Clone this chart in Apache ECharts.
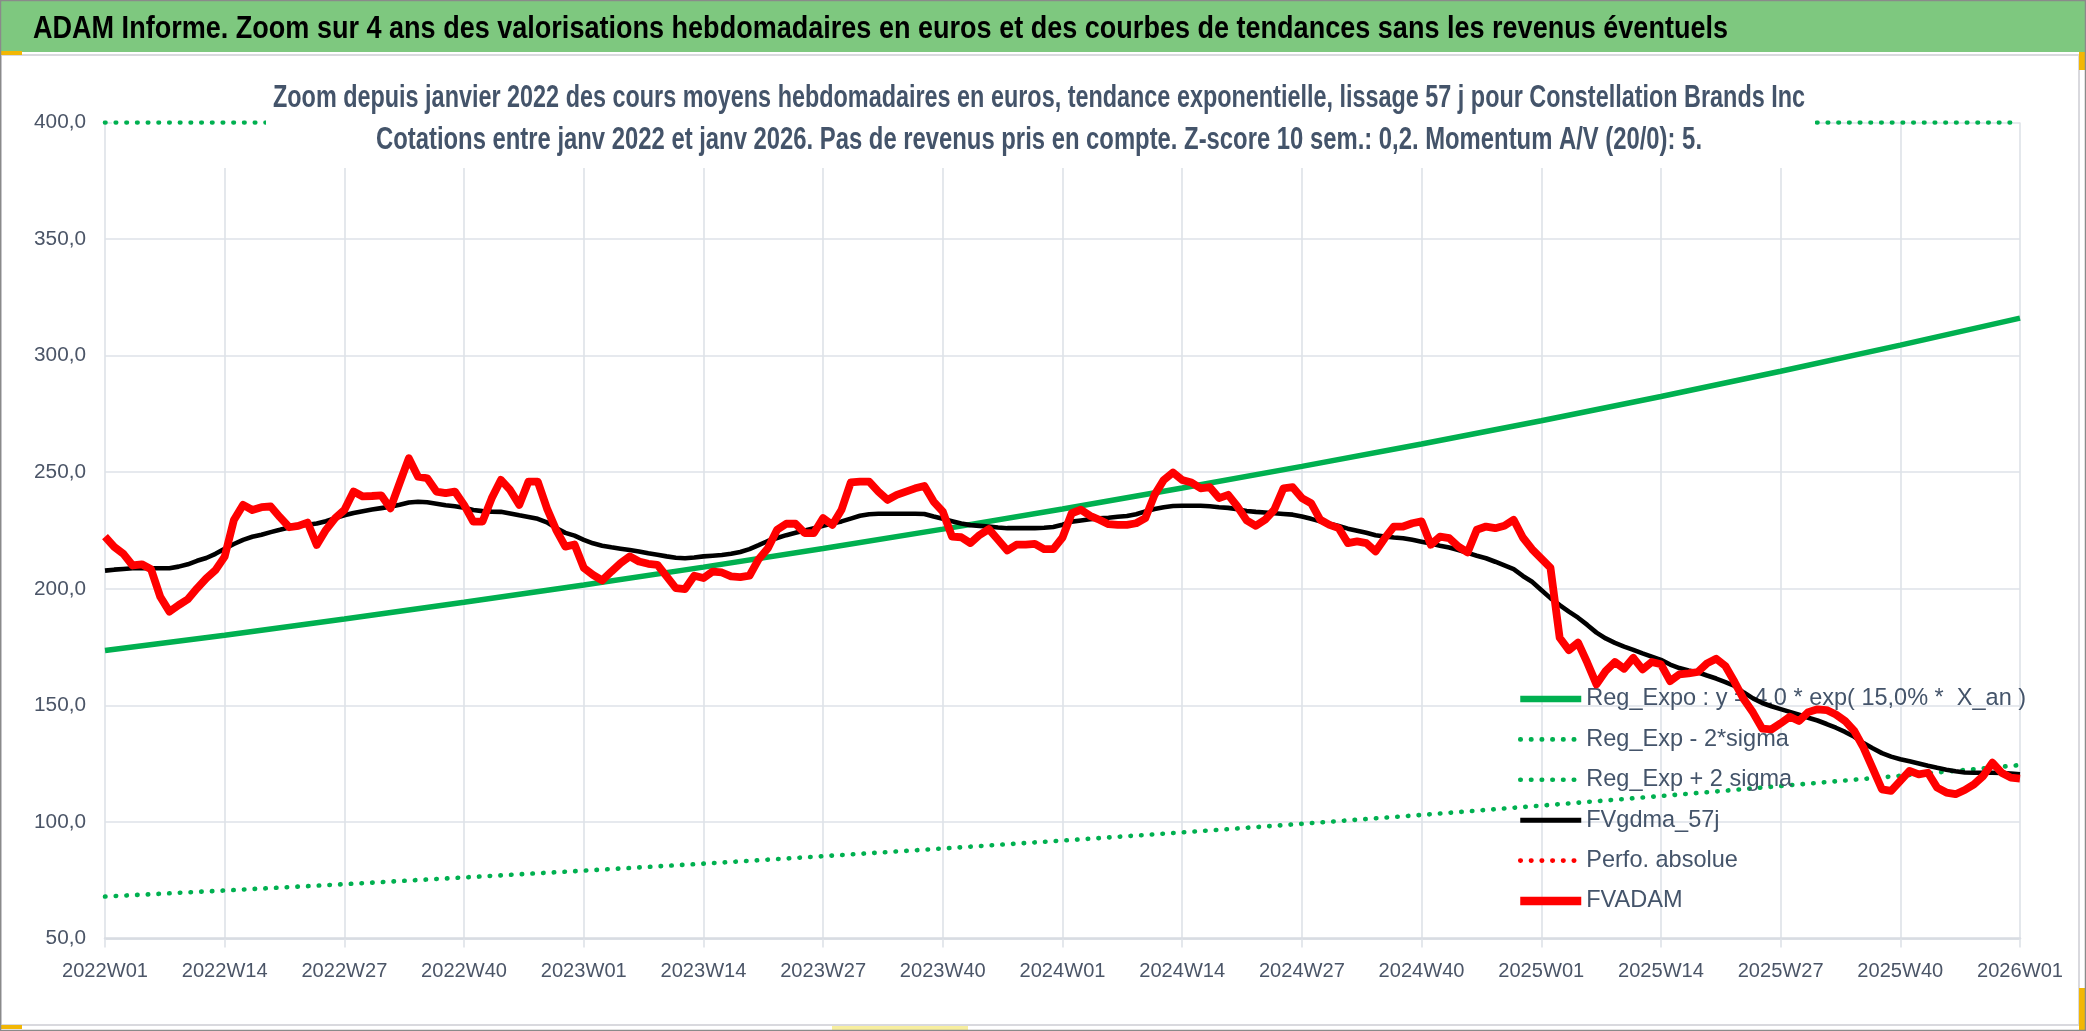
<!DOCTYPE html>
<html>
<head>
<meta charset="utf-8">
<script src="https://cdn.jsdelivr.net/npm/echarts@6/dist/echarts.min.js"></script>
<style>
html,body{margin:0;padding:0;background:#fff;}
#chart{width:2086px;height:1031px;}
</style>
</head>
<body>
<div id="chart"></div>
<script>
// ---------------- DATA ----------------
const years = [2022, 2023, 2024, 2025];
const weeksPerYear = 52;
const lastCategory = '2026W01';

const tickLabels = ['2022W01','2022W14','2022W27','2022W40','2023W01','2023W14','2023W27','2023W40',
  '2024W01','2024W14','2024W27','2024W40','2025W01','2025W14','2025W27','2025W40','2026W01'];

// Exponential regression (read at the tick weeks)
const regExpo = [173.5,180.1,187.0,194.2,201.6,209.3,217.3,225.6,234.2,243.2,252.5,262.1,272.1,282.5,293.3,304.5,316.1];
// Lower band (read at the tick weeks)
const regExpMinus2Sigma = [68.0,70.6,73.3,76.2,79.1,82.1,85.3,88.6,92.0,95.5,99.2,103.0,107.0,111.1,115.4,119.8,124.4];
// Upper band: above the axis maximum, seen along the top edge of the plot
const regExpPlus2Sigma = [400,400,400,400,400,400,400,400,400,400,400,400,400,400,400,400,400];
// Absolute performance series (nothing visible)
const perfoAbsolue = [];

// Weekly average price (FVADAM)
const fvadam = [
  222.4,218,215,210,210.5,208.4,196.6,190.2,193,195.5,
  200.2,204.5,208,213.8,229.5,236,233.8,235,235.3,230.7,
  226.4,227,228.4,218.8,225.3,230.3,233.8,241.7,239.6,239.8,
  240.1,234.5,245.3,256,248.1,247.4,241.7,241,241.7,236,
  228.8,228.8,238.8,246.7,242.4,236,246,246,234.5,225.3,
  218.1,219,209,
  206,203.6,207.4,211,213.9,211.7,210.7,210.3,205.3,200.3,
  199.9,205.6,204.6,207.4,207,205.3,205,205.6,212.7,217.4,
  225.3,227.9,227.9,223.9,223.9,230.3,227.4,233.9,245.6,246,
  246,241.7,238.1,240.3,241.7,243.1,244.1,237.4,233.1,222.4,
  222.1,219.6,223.1,225.6,221,216.4,218.9,218.9,219.3,217,
  217,222,232.4,233.9,231.3,229.6,227.7,227.4,227.4,228.1,
  230.3,240.3,246.7,249.9,246.7,245.6,243.1,243.6,238.9,240.3,
  235.3,229.3,227,229.6,233.9,243.1,243.6,238.9,236.7,229.6,
  227.4,226,219.6,220.3,219.6,216,221.7,226.7,226.7,228.1,
  228.9,218.9,222.4,221.7,218.1,215.6,225.3,226.7,226,227,
  229.6,222,217,213,209,
  179,173.7,176.9,168.3,159,164.7,168.6,165.7,170.4,165.4,
  168.6,167.6,160.4,163.3,163.7,164.3,168,170,166.9,160,
  152.6,146.9,140,139.7,142.3,145.1,143.3,147.1,148.3,148,
  146.1,143.3,139,131.9,123,114,113.3,117.6,121.9,120.4,
  121.1,114.7,112.6,111.9,113.7,116.1,119.7,125.4,121.1,119,
  118.6
];

// 57-day smoothing (FVgdma_57j)
const fvgdma57 = [
  207.8,208.2,208.5,208.8,208.8,208.8,208.8,208.8,209.5,210.5,
  212,213.2,215,217.2,219.2,221,222.3,223.2,224.3,225.3,
  226.3,227,227.5,228,229,230.3,231.5,232.5,233.3,234,
  234.6,235.2,236,237,237.3,237.1,236.5,235.8,235.4,234.8,
  233.8,233.3,233.1,233,232.3,231.5,230.8,230,228.5,226,
  224,222.8,221,
  219.5,218.5,217.8,217.2,216.6,216,215.2,214.6,213.9,213.3,
  213.1,213.4,213.9,214.2,214.5,215,215.8,217,218.7,220.5,
  221.8,223,224,225,226,227,228,228.9,230.1,231.3,
  232,232.2,232.2,232.2,232.2,232.2,232.1,231,230,229,
  228,227.3,227,226.7,226.3,226,226,226,226,226.2,
  226.5,227.5,228.8,229.3,229.8,230.2,230.5,230.9,231.2,232,
  233.2,234.2,235,235.5,235.6,235.6,235.6,235.4,235,234.7,
  234.1,233.4,233,232.7,232.4,232.1,231.8,231,230,228.9,
  227.9,226.9,225.8,224.9,224,223,222.4,222,221.7,221,
  220.2,219.4,218.5,217.7,216.6,215.4,214.2,213.1,211.6,210,
  208.4,205.5,
  203,199.5,196,193,190.2,187.6,184.5,181.2,178.7,176.8,
  175.2,173.8,172.3,170.9,169.5,167.5,166,165,164.2,162.8,
  161.5,160,158.3,155.5,153,151,149.6,148.4,147.2,146,
  144.7,143.5,142,140.4,138.6,136.5,133.8,131.6,129.5,128,
  126.9,126,125.1,124.1,123.2,122.4,121.7,121.2,121.1,121.1,
  121.1,121,120.7,120.4
];

// Weekly categories 2022W01 .. 2026W01
const categories = [];
years.forEach(y => { for (let w = 1; w <= weeksPerYear; w++) categories.push(y + 'W' + String(w).padStart(2, '0')); });
categories.push(lastCategory);

const titleText = 'ADAM Informe. Zoom sur 4 ans des valorisations hebdomadaires en euros et des courbes de tendances sans les revenus éventuels';
const subtitle1 = 'Zoom depuis janvier 2022 des cours moyens hebdomadaires en euros, tendance exponentielle, lissage 57 j pour Constellation Brands Inc';
const subtitle2 = 'Cotations entre janv 2022 et janv 2026. Pas de revenus pris en compte. Z-score 10 sem.: 0,2. Momentum A/V (20/0): 5.';
const seriesNames = ['Reg_Expo : y = 4,0 * exp( 15,0% *  X_an )','Reg_Exp - 2*sigma','Reg_Exp + 2 sigma','FVgdma_57j','Perfo. absolue','FVADAM'];

// ---------------- FONTS ----------------
const FAM = 'Liberation Sans';
const ctx = document.createElement('canvas').getContext('2d');
function measure(text, font) { ctx.font = font; return ctx.measureText(text).width; }
function fit(text, weight, maxSize, target) {
  const w = measure(text, weight + ' ' + maxSize + 'px "' + FAM + '"');
  return Math.min(maxSize, maxSize * target / w);
}
const xLabelFs = fit('2022W01', 'normal', 24, 86);
const yLabelFs = fit('400,0', 'normal', 24, 52);
const legendFs = fit(seriesNames[0], 'normal', 28, 440);

const titleFs = 31, subFs = 32;
const titleScale = 1695 / measure(titleText, 'bold ' + titleFs + 'px "' + FAM + '"');
const sub1Scale = 1532 / measure(subtitle1, 'bold ' + subFs + 'px "' + FAM + '"');
const sub2Scale = 1326 / measure(subtitle2, 'bold ' + subFs + 'px "' + FAM + '"');

// ---------------- CHART ----------------
const GREEN = '#00B050', RED = '#FF0000', BLACK = '#000000';
const GRID = '#DEE2E8';
const TEXT = '#44546A';
const LABEL = '#4B5567';
const dots = [0.5, 10.2];
const pairs = vals => tickLabels.map((c, i) => [c, vals[i]]);
const legendWidths = [6.5, 4.6, 4.6, 5, 4.6, 8.5];

const chart = echarts.init(document.getElementById('chart'), null, { renderer: 'canvas' });
chart.setOption({
  animation: false,
  backgroundColor: '#ffffff',
  grid: { left: 105, right: 66, top: 122.5, bottom: 92.5, containLabel: false },
  xAxis: {
    type: 'category', data: categories, boundaryGap: false,
    axisLine: { show: true, lineStyle: { color: '#D8DCE2', width: 2.5 } },
    axisTick: { show: true, interval: 12, length: 9, lineStyle: { color: GRID, width: 1.6 } },
    axisLabel: { interval: 12, margin: 23, color: LABEL, fontSize: xLabelFs, fontFamily: FAM },
    splitLine: { show: true, interval: 12, lineStyle: { color: GRID, width: 1.6 } }
  },
  yAxis: {
    type: 'value', min: 50, max: 400, interval: 50,
    axisLine: { show: false }, axisTick: { show: false },
    axisLabel: { margin: 19, color: LABEL, fontSize: yLabelFs, fontFamily: FAM,
      formatter: v => v.toFixed(1).replace('.', ',') },
    splitLine: { show: true, lineStyle: { color: GRID, width: 1.6 } }
  },
  legend: {
    orient: 'vertical', left: 1511, top: 680, itemWidth: 61, itemHeight: 14, itemGap: 12.4,
    selectedMode: false,
    data: seriesNames.map((n, i) => ({ name: n, itemStyle: { opacity: 0 }, lineStyle: { width: legendWidths[i] } })),
    textStyle: { fontFamily: FAM, fontSize: legendFs, color: TEXT, lineHeight: 28 }
  },
  series: [
    { name: seriesNames[0], type: 'line', data: pairs(regExpo), showSymbol: false, symbol: 'none', z: 3,
      lineStyle: { color: GREEN, width: 5.5 }, itemStyle: { color: GREEN } },
    { name: seriesNames[1], type: 'line', data: pairs(regExpMinus2Sigma), showSymbol: false, symbol: 'none', z: 3,
      lineStyle: { color: GREEN, width: 4.6, type: dots, cap: 'round' }, itemStyle: { color: GREEN } },
    { name: seriesNames[2], type: 'line', data: pairs(regExpPlus2Sigma), showSymbol: false, symbol: 'none', z: 3,
      lineStyle: { color: GREEN, width: 4.6, type: dots, cap: 'round' }, itemStyle: { color: GREEN } },
    { name: seriesNames[3], type: 'line', data: fvgdma57, showSymbol: false, symbol: 'none', z: 4,
      lineStyle: { color: BLACK, width: 4.6 }, itemStyle: { color: BLACK } },
    { name: seriesNames[4], type: 'line', data: perfoAbsolue, showSymbol: false, symbol: 'none', z: 4,
      lineStyle: { color: RED, width: 4.6, type: dots, cap: 'round' }, itemStyle: { color: RED } },
    { name: seriesNames[5], type: 'line', data: fvadam, showSymbol: false, symbol: 'none', z: 5,
      lineStyle: { color: RED, width: 7.8, join: 'round' }, itemStyle: { color: RED } }
  ],
  graphic: [
    // chart frame
    { type: 'rect', z: 0, silent: true, shape: { x: 1, y: 55, width: 2078, height: 970 },
      style: { fill: 'none', stroke: '#D9D9DE', lineWidth: 2 } },
    // box hiding top gridlines (under the series)
    { type: 'rect', z: 1, silent: true, shape: { x: 112, y: 118, width: 1703, height: 50 },
      style: { fill: '#ffffff' } },
    // subtitle background (over the series)
    { type: 'rect', z: 50, silent: true, shape: { x: 266, y: 66, width: 1549, height: 102 },
      style: { fill: '#ffffff' } },
    { type: 'text', z: 60, silent: true, x: 1039, y: 98.5, scaleX: sub1Scale,
      style: { text: subtitle1, fill: TEXT, fontFamily: FAM, fontWeight: 'bold', fontSize: subFs, align: 'center', verticalAlign: 'middle' } },
    { type: 'text', z: 60, silent: true, x: 1039, y: 140, scaleX: sub2Scale,
      style: { text: subtitle2, fill: TEXT, fontFamily: FAM, fontWeight: 'bold', fontSize: subFs, align: 'center', verticalAlign: 'middle' } },
    // header bar
    { type: 'rect', z: 70, silent: true, shape: { x: 0, y: 0, width: 2086, height: 52 },
      style: { fill: '#7EC87F' } },
    { type: 'text', z: 71, silent: true, x: 33, y: 29, scaleX: titleScale,
      style: { text: titleText, fill: '#000000', fontFamily: FAM, fontWeight: 'bold', fontSize: titleFs, align: 'left', verticalAlign: 'middle' } },
    // selection handles
    { type: 'rect', z: 72, silent: true, shape: { x: 0, y: 51, width: 22, height: 4 }, style: { fill: '#F2B705' } },
    { type: 'rect', z: 72, silent: true, shape: { x: 2079, y: 52, width: 7, height: 18 }, style: { fill: '#F2B705' } },
    { type: 'rect', z: 72, silent: true, shape: { x: 2079, y: 988, width: 7, height: 43 }, style: { fill: '#F2B705' } },
    { type: 'rect', z: 72, silent: true, shape: { x: 0, y: 1025, width: 22, height: 4 }, style: { fill: '#F2B705' } },
    { type: 'rect', z: 72, silent: true, shape: { x: 832, y: 1026, width: 136, height: 4 }, style: { fill: '#F7EE9E' } },
    // outer border
    { type: 'rect', z: 80, silent: true, shape: { x: 0.5, y: 0.5, width: 2085, height: 1030 },
      style: { fill: 'none', stroke: '#8A8A8A', lineWidth: 1.5 } }
  ]
});
</script>
</body>
</html>
